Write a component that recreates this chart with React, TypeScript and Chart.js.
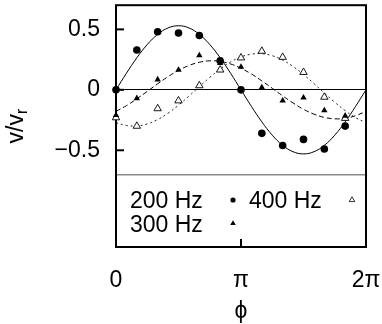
import React, { useEffect, useRef } from 'react';
import { Chart, registerables } from 'chart.js';

Chart.register(...registerables);

const FONT = '"Liberation Sans", Arial, Helvetica, sans-serif';

// phase in units of π
const markerPhase = [0, 0.1667, 0.3333, 0.5, 0.6667, 0.8333, 1, 1.1667, 1.3333, 1.5, 1.6667, 1.8333];
const v200 = [0.0, 0.33, 0.48, 0.47, 0.45, 0.24, 0.0, -0.36, -0.46, -0.41, -0.49, -0.3];
const v300 = [-0.21, -0.07, 0.085, 0.165, 0.285, 0.22, 0.19, 0.02, -0.09, -0.065, -0.17, -0.215];
const v400 = [-0.23, -0.3, -0.155, -0.09, 0.035, 0.165, 0.265, 0.32, 0.27, 0.145, -0.06, -0.235];

// fitted curves at steps of π/12
const curvePhase = [0, 0.0833, 0.1667, 0.25, 0.3333, 0.4167, 0.5, 0.5833, 0.6667, 0.75, 0.8333, 0.9167, 1,
  1.0833, 1.1667, 1.25, 1.3333, 1.4167, 1.5, 1.5833, 1.6667, 1.75, 1.8333, 1.9167, 2];
const fit200 = [0, 0.137, 0.265, 0.375, 0.459, 0.512, 0.53, 0.512, 0.459, 0.375, 0.265, 0.137, 0,
  -0.137, -0.265, -0.375, -0.459, -0.512, -0.53, -0.512, -0.459, -0.375, -0.265, -0.137, 0];
const fit300 = [-0.178, -0.131, -0.074, -0.013, 0.05, 0.109, 0.161, 0.201, 0.228, 0.24, 0.235, 0.214, 0.178,
  0.131, 0.074, 0.013, -0.05, -0.109, -0.161, -0.201, -0.228, -0.24, -0.235, -0.214, -0.178];
const fit400 = [-0.272, -0.295, -0.299, -0.282, -0.246, -0.193, -0.127, -0.052, 0.026, 0.103, 0.172, 0.23, 0.272,
  0.295, 0.299, 0.282, 0.246, 0.193, 0.127, 0.052, -0.026, -0.103, -0.172, -0.23, -0.272];

const seriesLabels = ['200 Hz', '300 Hz', '400 Hz'];
const xTickValues = [0, 1, 2];
const xTickLabels = ['0', 'π', '2π'];
const yTickValues = [-0.5, 0, 0.5];
const yTickLabels = ['−0.5', '0', '0.5'];
const dividerValue = -0.7;
const yMin = -1.3;
const yMax = 0.7;

const pts = (xs: number[], ys: number[]) => xs.map((x, i) => ({ x, y: ys[i] }));

const framePlugin = {
  id: 'frame',
  beforeDatasetsDraw(chart: any) {
    const { ctx, chartArea: a } = chart;
    ctx.save();
    ctx.strokeStyle = '#000';
    ctx.lineWidth = 2;
    ctx.strokeRect(a.left, a.top, a.right - a.left, a.bottom - a.top);
    // inward tick marks
    const ys = chart.scales.y;
    yTickValues.forEach((v) => {
      const py = ys.getPixelForValue(v);
      ctx.beginPath();
      ctx.moveTo(a.left, py);
      ctx.lineTo(a.left + 8, py);
      ctx.stroke();
    });
    const xs = chart.scales.x;
    const px = xs.getPixelForValue(xTickValues[1]);
    ctx.beginPath();
    ctx.moveTo(px, a.bottom);
    ctx.lineTo(px, a.bottom - 8);
    ctx.stroke();
    ctx.restore();
  },
};

function drawMarker(ctx: CanvasRenderingContext2D, style: string, filled: boolean, x: number, y: number, r: number) {
  ctx.beginPath();
  if (style === 'circle') {
    ctx.arc(x, y, r, 0, Math.PI * 2);
  } else {
    ctx.moveTo(x, y - r);
    ctx.lineTo(x + r * 0.866, y + r / 2);
    ctx.lineTo(x - r * 0.866, y + r / 2);
    ctx.closePath();
  }
  if (filled) {
    ctx.fillStyle = '#000';
    ctx.fill();
  } else {
    ctx.fillStyle = '#fff';
    ctx.fill();
    ctx.lineWidth = 0.8;
    ctx.strokeStyle = '#000';
    ctx.stroke();
  }
}

const legendPlugin = {
  id: 'insideLegend',
  afterDraw(chart: any) {
    const { ctx } = chart;
    const items = chart.data.datasets.filter((d: any) => d.legendItem);
    ctx.save();
    ctx.font = `23px ${FONT}`;
    ctx.fillStyle = '#000';
    ctx.textAlign = 'left';
    ctx.textBaseline = 'alphabetic';
    const colX = [130, 249];
    const rowY = [200, 223.5];
    items.forEach((d: any, i: number) => {
      const col = Math.floor(i / 2);
      const row = i % 2;
      const tx = colX[col];
      const ty = rowY[row];
      ctx.fillText(d.label, tx, ty + 8.3);
      const filled = d.pointBackgroundColor !== '#fff';
      drawMarker(ctx, d.pointStyle, filled, tx + 103, ty, d.pointStyle === 'circle' ? 2.6 : 3.2);
    });
    ctx.restore();
  },
};

const yTitlePlugin = {
  id: 'yTitle',
  afterDraw(chart: any) {
    const { ctx, chartArea: a } = chart;
    ctx.save();
    const cy = (a.top + a.bottom) / 2;
    ctx.translate(23, cy);
    ctx.rotate(-Math.PI / 2);
    ctx.fillStyle = '#000';
    ctx.textBaseline = 'alphabetic';
    ctx.textAlign = 'left';
    const main = 'v/v';
    const sub = 'r';
    ctx.font = `23px ${FONT}`;
    const w1 = ctx.measureText(main).width;
    ctx.font = `16px ${FONT}`;
    const w2 = ctx.measureText(sub).width;
    const x0 = -(w1 + w2) / 2;
    ctx.font = `23px ${FONT}`;
    ctx.fillText(main, x0, 0);
    ctx.font = `16px ${FONT}`;
    ctx.fillText(sub, x0 + w1, 4);
    ctx.restore();
  },
};

export default function App() {
  const ref = useRef<HTMLCanvasElement>(null);
  useEffect(() => {
    if (!ref.current) return;
    const chart = new Chart(ref.current, {
      type: 'scatter',
      data: {
        datasets: [
          {
            label: seriesLabels[0],
            legendItem: true,
            data: pts(markerPhase, v200),
            pointStyle: 'circle',
            pointRadius: 3.8,
            pointBackgroundColor: '#000',
            pointBorderWidth: 0,
            borderColor: '#000',
            showLine: false,
            clip: false,
          } as any,
          {
            label: seriesLabels[1],
            legendItem: true,
            data: pts(markerPhase, v300),
            pointStyle: 'triangle',
            pointRadius: 3.7,
            pointBackgroundColor: '#000',
            pointBorderWidth: 0,
            borderColor: '#000',
            showLine: false,
            clip: false,
          } as any,
          {
            label: seriesLabels[2],
            legendItem: true,
            data: pts(markerPhase, v400),
            pointStyle: 'triangle',
            pointRadius: 4.3,
            pointBackgroundColor: '#fff',
            pointBorderColor: '#000',
            pointBorderWidth: 0.9,
            borderColor: '#000',
            showLine: false,
            clip: false,
          } as any,
          {
            label: seriesLabels[0] + ' fit',
            data: pts(curvePhase, fit200),
            showLine: true,
            pointRadius: 0,
            borderColor: '#000',
            borderWidth: 1,
            tension: 0.4,
          },
          {
            label: seriesLabels[1] + ' fit',
            data: pts(curvePhase, fit300),
            showLine: true,
            pointRadius: 0,
            borderColor: '#000',
            borderWidth: 1,
            borderDash: [5, 3],
            tension: 0.4,
          },
          {
            label: seriesLabels[2] + ' fit',
            data: pts(curvePhase, fit400),
            showLine: true,
            pointRadius: 0,
            borderColor: '#222',
            borderWidth: 1,
            borderDash: [2, 3],
            tension: 0.4,
          },
        ],
      },
      options: {
        animation: false,
        responsive: false,
        devicePixelRatio: 1,
        layout: { padding: { left: 0, right: 16, top: 3, bottom: 0 } },
        plugins: { legend: { display: false }, tooltip: { enabled: false } },
        scales: {
          x: {
            type: 'linear',
            min: 0,
            max: 2,
            afterBuildTicks: (s: any) => {
              s.ticks = xTickValues.map((value) => ({ value }));
            },
            afterFit: (s: any) => {
              s.height = 77;
              s.paddingLeft = 0;
              s.paddingRight = 0;
            },
            ticks: {
              callback: (v: any) => xTickLabels[xTickValues.indexOf(Number(v))] ?? '',
              font: { family: FONT, size: 23 },
              color: '#000',
              padding: 12,
              maxRotation: 0,
              autoSkip: false,
            },
            grid: { display: false },
            border: { display: false },
            title: {
              display: true,
              text: 'ϕ',
              color: '#000',
              font: { family: FONT, size: 23 },
              padding: { top: 0, bottom: -1 },
            },
          },
          y: {
            type: 'linear',
            min: yMin,
            max: yMax,
            afterBuildTicks: (s: any) => {
              s.ticks = [dividerValue, ...yTickValues].map((value) => ({ value }));
            },
            afterFit: (s: any) => {
              s.width = 116;
              s.paddingTop = 0;
              s.paddingBottom = 0;
            },
            ticks: {
              callback: (v: any) => {
                const i = yTickValues.indexOf(Number(v));
                return i >= 0 ? yTickLabels[i] : '';
              },
              font: { family: FONT, size: 23 },
              color: '#000',
              padding: 16,
              autoSkip: false,
            },
            grid: {
              drawTicks: false,
              color: (c: any) =>
                c.tick && c.tick.value === 0 ? '#000' : c.tick && c.tick.value === dividerValue ? '#8a8a8a' : 'rgba(0,0,0,0)',
              lineWidth: (c: any) => (c.tick && c.tick.value === dividerValue ? 1.5 : 1),
            },
            border: { display: false },
          },
        },
      } as any,
      plugins: [framePlugin, legendPlugin, yTitlePlugin],
    });
    return () => chart.destroy();
  }, []);
  return (
    <div style={{ position: 'fixed', left: 0, top: 0, width: 382, height: 324, background: '#fff' }}>
      <canvas ref={ref} width={382} height={324} style={{ display: 'block' }} />
    </div>
  );
}
